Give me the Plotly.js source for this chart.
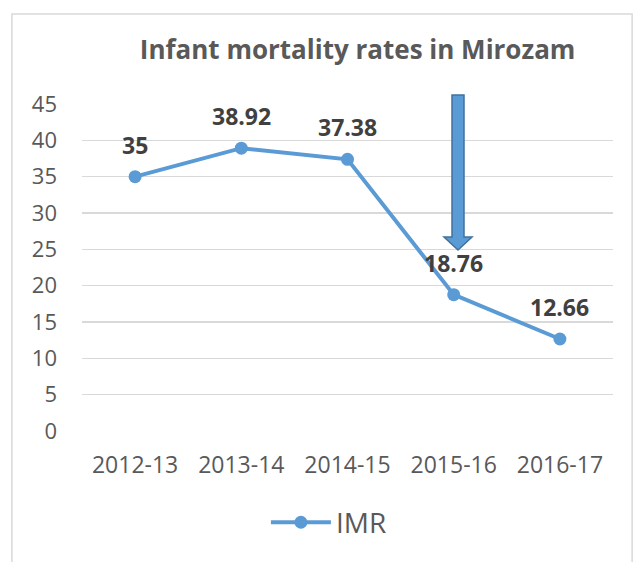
<!DOCTYPE html>
<html><head><meta charset="utf-8">
<script src="https://cdn.plot.ly/plotly-3.0.1.min.js"></script>
<style>html,body{margin:0;padding:0;background:#fff;}#chart{width:642px;height:562px;}</style>
</head><body><div id="chart"></div>
<script>
const categories = ["2012-13", "2013-14", "2014-15", "2015-16", "2016-17"];
const imrValues = [35, 38.92, 37.38, 18.76, 12.66];
const valueLabels = ["35", "38.92", "37.38", "18.76", "12.66"];
const yTicks = [0, 5, 10, 15, 20, 25, 30, 35, 40, 45];
const seriesName = "IMR";
const chartTitle = "Infant mortality rates in Mirozam";

const FONT = "Open Sans, Noto Sans, sans-serif";
const blue = "#5B9BD5";

const trace = {
  x: categories, y: imrValues, type: "scatter", mode: "lines+markers",
  name: seriesName,
  line: {color: blue, width: 4},
  marker: {color: blue, size: 13},
  hoverinfo: "none"
};

const annotations = categories.map((c, i) => ({
  x: c, y: imrValues[i], xref: "x", yref: "y", text: "<b>" + valueLabels[i] + "</b>",
  showarrow: false, yshift: 32, font: {family: FONT, size: 23, color: "#404040"}
}));

// helpers: convert pixel coords to paper coords (plot area x 82..613, y 104..431)
const L = 82, R = 613, T = 104, B = 431;
const px = v => ((v - L) / (R - L)).toFixed(4);
const py = v => ((B - v) / (B - T)).toFixed(4);
const arrowPath = `M${px(452)},${py(95)} L${px(464)},${py(95)} L${px(464)},${py(237)} L${px(472)},${py(237)} L${px(458)},${py(250)} L${px(444)},${py(237)} L${px(452)},${py(237)} Z`;

const shapes = [
  {type: "rect", xref: "paper", yref: "paper", x0: -0.132, x1: 1.036, y0: -0.45, y1: 1.275,
   line: {color: "#D9D9D9", width: 1.5}, fillcolor: "rgba(0,0,0,0)", layer: "below"},
  {type: "path", xref: "paper", yref: "paper", path: arrowPath,
   fillcolor: blue, line: {color: "#41719C", width: 1.5}}
];

const layout = {
  width: 642, height: 562,
  margin: {l: 82, r: 29, t: 104, b: 131},
  paper_bgcolor: "#fff", plot_bgcolor: "#fff",
  title: {text: "<b>" + chartTitle + "</b>", x: 0.557, xanchor: "center", y: 0.912, yanchor: "middle",
          font: {family: FONT, size: 26, color: "#595959"}},
  xaxis: {type: "category", range: [-0.5, 4.5], showgrid: false, zeroline: false, showline: false,
          tickfont: {family: FONT, size: 23, color: "#595959"}, ticks: "", ticklabelstandoff: 18},
  yaxis: {range: [0, 45], tickvals: yTicks, ticktext: yTicks.map(String), showgrid: true,
          gridcolor: "#D9D9D9", gridwidth: 1.5, zeroline: false, showline: false, ticks: "",
          ticklabelstandoff: 24,
          tickfont: {family: FONT, size: 22, color: "#595959"}},
  showlegend: true,
  legend: {orientation: "h", x: 0.465, xanchor: "center", y: -0.28, yanchor: "middle",
           font: {family: FONT, size: 28, color: "#595959"}, itemwidth: 60},
  shapes: shapes,
  annotations: annotations
};

Plotly.newPlot("chart", [trace], layout, {displayModeBar: false, staticPlot: true});
</script></body></html>
